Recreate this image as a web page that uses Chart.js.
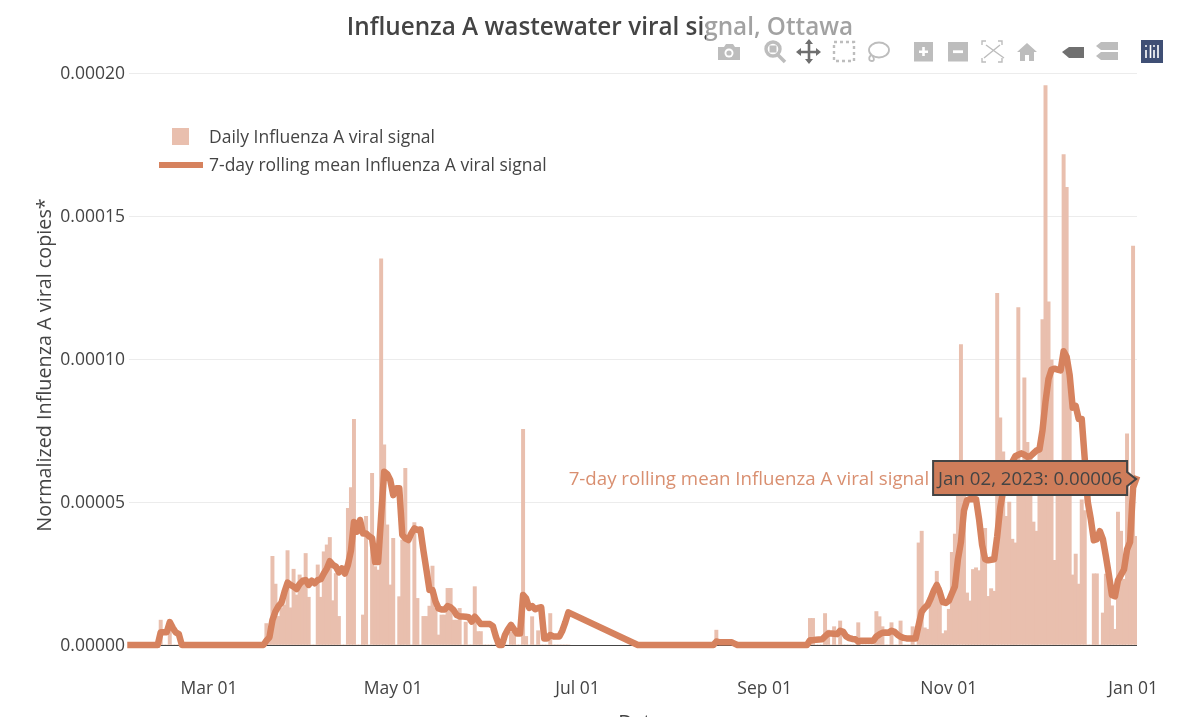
<!DOCTYPE html>
<html>
<head>
<meta charset="utf-8">
<style>
html,body{margin:0;padding:0;width:1200px;height:717px;overflow:hidden;background:#fff}
#wrap{position:absolute;left:0;top:0;width:1200px;height:760px}
canvas{display:block}
#shade{position:absolute;left:706px;top:8px;width:460px;height:58px;background:rgba(255,255,255,.5)}
#bar{position:absolute;left:0;top:0}
</style>
</head>
<body>
<div id="wrap">
<canvas id="c" width="1200" height="760"></canvas>
<div id="shade"></div>
<svg id="bar" width="1200" height="80" viewBox="0 0 1200 80" fill="#bdbdbd">
  <path d="M718 47h6l2-3h7l2 3h5v13h-22z"/><circle cx="729" cy="53" r="4.5" fill="#fff"/><circle cx="729" cy="53" r="2.6"/>
  <circle cx="773" cy="49" r="7" fill="none" stroke="#bdbdbd" stroke-width="3.4"/><rect x="769.5" y="45.5" width="7" height="7"/><path d="M778 55l7 7" stroke="#bdbdbd" stroke-width="3.6" fill="none"/>
  <path d="M809 41v21M798 52h21" stroke="#6f6f6f" stroke-width="2.6" fill="none"/><path d="M809 39l4 5h-8zM809 64l4-5h-8zM796 52l5-4v8zM821 52l-5-4v8z" fill="#6f6f6f"/>
  <rect x="834" y="42" width="20" height="19" fill="none" stroke="#bdbdbd" stroke-width="2.4" stroke-dasharray="3 3"/>
  <ellipse cx="879" cy="50" rx="10" ry="7.5" fill="none" stroke="#bdbdbd" stroke-width="1.8"/><path d="M871 55c-3 3-2 6 1 6s2-4 0-5" fill="none" stroke="#bdbdbd" stroke-width="1.8"/>
  <rect x="914" y="42" width="19" height="19.5"/><path d="M923.500 47v9M919 51.700h9" stroke="#fff" stroke-width="2.6"/>
  <rect x="948" y="42" width="20" height="19.5"/><path d="M953 51.700h10" stroke="#fff" stroke-width="2.8"/>
  <path d="M986 41h-4v4M998 41h4v4M986 62h-4v-4M998 62h4v-4M986 45l18 13M1000 45l-16 13" fill="none" stroke="#bdbdbd" stroke-width="1.4"/>
  <path d="M1027 43l10 9h-3v9h-5v-6h-4v6h-5v-9h-3z"/>
  <path d="M1062 52l7-5h15v11h-15z" fill="#707070"/>
  <path d="M1096 46l5-4h17v8h-17zM1096 56l5-4h17v8h-17z"/>
  <rect x="1141" y="40" width="22" height="23" fill="#3f4f75"/>
  <path d="M1146 50v8M1150.500 45v13M1154 50v8M1158 45v13" stroke="#fff" stroke-width="1.6" stroke-dasharray="none"/>
  <circle cx="1146" cy="46" r="1" fill="#fff"/><circle cx="1154" cy="46" r="1" fill="#fff"/>
</svg>
</div>
<script src="https://cdn.jsdelivr.net/npm/chart.js@4"></script>
<script>
const chartTitle = 'Influenza A wastewater viral signal, Ottawa';
const xTitle = 'Date';
const yTitle = 'Normalized Influenza A viral copies*';
const dailyName = 'Daily Influenza A viral signal';
const rollingName = '7-day rolling mean Influenza A viral signal';
const hoverText = 'Jan 02, 2023: 0.00006';
const tickDays = [26, 87, 148, 210, 271, 332];
const tickLabels = ['Mar 01', 'May 01', 'Jul 01', 'Sep 01', 'Nov 01', 'Jan 01'];
const yTicks = [0, 0.00005, 0.0001, 0.00015, 0.0002];
// one value per day from Feb 03 2022, in millionths
const dailySignal = [
0,0,0,0,0,0,0,0,0,0,8.7,0,0,8,0,0,0,0,0,0,
0,0,0,0,0,0,0,0,0,0,0,0,0,0,0,0,0,0,0,0,
0,0,0,0,0,7.5,4,31,21.3,10,13,14,33,13,26.5,17.5,24.5,23.5,32,16.7,
0,0,28,16.7,32.6,35,37.6,15.5,25,10,0,0,47.8,55,78.9,0,0,10.5,45,0,
60,27.4,26.2,135,70,42,21,37.3,0,16.9,36.7,61.8,36.7,0,42.8,16.3,0,10,10,13.6,
27.6,12.8,3.5,10.5,10.5,19.8,19.8,8.7,8.7,12.8,0,8,0,0,20.4,4.7,4.7,0,0,0,
0,0,0,0,0,0,4.5,4.5,0,0,75.4,3,0,9.9,0,5,0,0,0,11,
0,0,0,0,0,0,
null,null,null,null,null,null,null,null,null,null,null,null,null,null,null,null,null,null,null,null,null,null,
0,0,0,0,0,0,0,0,0,0,0,0,0,0,0,0,0,0,0,0,0,0,0,0,0,0,
5.2,0,0,0,0,0,0,0,0,0,0,0,0,0,0,0,0,0,0,0,0,0,0,0,0,0,0,0,0,0,0,
9.3,9.3,0,0,0,11,5.2,0,6.4,0,8.4,0,0,0,0,0,7.8,0,0,0,0,0,11.7,9.9,6.4,0,0,7.8,0,0,
8.4,0,0,0,6.4,0,35.7,39.8,6,5.5,15,20,25.8,20,4,5,12.5,32.4,38.8,55.6,
105,57.6,18.2,15.4,26.4,27,26,33,40.8,17,19.7,18.8,123,79.4,67.5,45,50,37,35.7,118,
52,93.4,70.9,66,43,39.8,70,113.8,195.6,120,99.7,29.6,52,52,171.5,160,94,24.5,31.8,21.3,
50.8,47,0,0,24.9,24.9,0,11.2,24.8,27,13.7,5.5,46.5,39.8,23,73.8,34.7,139.5,38
];
const rollingMean = [
0,0,0,0,0,0,0,0,0,0,4.5,4.5,4.5,8,6,4.4,3.8,0,0,0,
0,0,0,0,0,0,0,0,0,0,0,0,0,0,0,0,0,0,0,0,
0,0,0,0,0,1.5,2.7,8.7,11.7,13.6,14.8,18.6,21.8,21,20.4,19.6,21.3,22.4,22.7,21,
22.5,21.6,22.7,23,25,26.7,29.3,28,27.4,25.4,26.8,25,28,33,43,39.6,43.7,39,39,38,
37.3,29,29,45,60.6,59.8,57.7,52.4,54.8,54.8,38.5,37.3,36.7,39,40.8,40.2,40.4,33,26.2,19.2,
19.2,15.2,12.8,12.4,12.4,13.6,13.2,12.2,10.5,10,10,9.9,9.7,8.2,9.9,8.7,7.3,7.3,7.3,7.3,
6.6,2.9,0,0,3.5,5.5,7,5.5,4,4,17.5,16.3,13,13.6,12.5,13,13.2,2.3,2.3,3.5,
3,3,3,5,8,11.4,
null,null,null,null,null,null,null,null,null,null,null,null,null,null,null,null,null,null,null,null,null,null,
0,0,0,0,0,0,0,0,0,0,0,0,0,0,0,0,0,0,0,0,0,0,0,0,0,0,
1.2,1,1,1,1,1,0.5,0,0,0,0,0,0,0,0,0,0,0,0,0,0,0,0,0,0,0,0,0,0,0,0,
1.7,1.7,1.8,1.9,2,3,4,4,3.9,3.8,5,4.6,3,2.4,2.1,2,1.2,1.5,1.5,1.5,1.5,1.5,3,3.7,4.3,4.4,4.3,5,4.6,3.6,
2.9,2.5,2.3,2.3,2.3,2.3,7,11.6,13,14,16.3,19,21,18.5,15,14.7,15.5,18,20.5,30,
36,47,50.6,51,51,51,44,35,30,29.6,29.8,30,38,48,54,57.6,61,64,66,66.5,
67,66.5,65.8,66,67,68,68.4,75,85,93,96.3,96.6,96.3,96,102.7,100.8,94.4,83,83.6,79,
79,65,50,44,36.6,37,39.8,37,31,24.5,17.5,17,22.6,24.5,26.4,33.4,36,55,58
];

const FONT = '"Open Sans", sans-serif';
const INK = '#444444';
const BAR = '#e9bfae';
const LINE = '#d6825e';
const toPoints = a => a.map((v, i) => ({x: i, y: v === null ? null : v * 1e-6}));

const overlay = {
  id: 'overlay',
  afterLayout(chart) {
    // centre the title on the whole figure, not just the part left of the right margin
    chart.titleBlock.right = chart.width;
    chart.titleBlock.left = 0;
  },
  afterDraw(chart) {
    const {ctx, scales} = chart;
    ctx.save();
    ctx.textBaseline = 'middle';
    ctx.textAlign = 'center';
    ctx.fillStyle = INK;
    ctx.font = '19.8px ' + FONT;
    ctx.fillText(xTitle, 640, 723);
    ctx.save();
    ctx.translate(45, 365);
    ctx.rotate(-Math.PI / 2);
    ctx.fillText(yTitle, 0, 0);
    ctx.restore();
    // legend
    ctx.font = '17.5px ' + FONT;
    ctx.textAlign = 'left';
    ctx.fillStyle = BAR;
    ctx.fillRect(172, 128, 17, 17);
    ctx.strokeStyle = LINE;
    ctx.lineWidth = 6;
    ctx.beginPath(); ctx.moveTo(159, 165); ctx.lineTo(203, 165); ctx.stroke();
    ctx.fillStyle = INK;
    ctx.fillText(chart.data.datasets[0].label, 209, 138);
    ctx.fillText(chart.data.datasets[1].label, 209, 166);
    // hover label for the last rolling-mean point
    const last = rollingMean.length - 1;
    const px = scales.x.getPixelForValue(last);
    const py = scales.y.getPixelForValue(rollingMean[last] * 1e-6);
    const l = px - 203, r = px - 9, t = py - 18, b = py + 16;
    ctx.beginPath();
    ctx.moveTo(px, py); ctx.lineTo(r, py - 7); ctx.lineTo(r, t); ctx.lineTo(l, t);
    ctx.lineTo(l, b); ctx.lineTo(r, b); ctx.lineTo(r, py + 7); ctx.closePath();
    ctx.fillStyle = '#cf7d5a'; ctx.fill();
    ctx.strokeStyle = INK; ctx.lineWidth = 2; ctx.stroke();
    ctx.font = '18.7px ' + FONT;
    ctx.fillStyle = INK;
    ctx.fillText(hoverText, l + 5, py + 1);
    ctx.fillStyle = '#d98f70';
    ctx.textAlign = 'right';
    ctx.fillText(rollingName, l - 4, py + 1);
    ctx.restore();
  }
};

new Chart(document.getElementById('c'), {
  type: 'bar',
  data: {
    datasets: [
      {type: 'bar', label: dailyName, data: toPoints(dailySignal), backgroundColor: BAR, borderWidth: 0,
       barThickness: 3.3, order: 2},
      {type: 'line', label: rollingName, data: toPoints(rollingMean), borderColor: LINE, borderWidth: 6.5,
       backgroundColor: LINE, pointRadius: 0, tension: 0, spanGaps: true, clip: false,
       borderJoinStyle: 'round', borderCapStyle: 'square', order: 1}
    ]
  },
  options: {
    responsive: false,
    animation: false,
    devicePixelRatio: 1,
    layout: {padding: {left: 0, right: 63, top: 0, bottom: 0}},
    plugins: {
      legend: {display: false},
      tooltip: {enabled: false},
      title: {display: true, text: chartTitle, color: INK,
        font: {family: FONT, size: 24.3, weight: '600', lineHeight: 1.2},
        padding: {top: 13, bottom: 30.84}}
    },
    scales: {
      x: {
        type: 'linear', min: -0.5, max: 333.3, offset: false,
        grid: {display: false}, border: {display: false},
        afterBuildTicks(s) { s.ticks = tickDays.map(v => ({value: v})); },
        afterFit(s) { s.height = 115; },
        ticks: {autoSkip: false, maxRotation: 0, padding: 26, color: INK, font: {family: FONT, size: 17.5},
          callback: v => tickLabels[tickDays.indexOf(v)]}
      },
      y: {
        min: 0, max: 0.0002,
        afterBuildTicks(s) { s.ticks = yTicks.map(v => ({value: v})); },
        afterFit(s) { s.width = 129; },
        grid: {drawTicks: false, lineWidth: 1, color: c => c.tick.value === 0 ? INK : '#ececec'},
        border: {display: false},
        ticks: {padding: 4, labelOffset: 1, color: INK, font: {family: FONT, size: 17.5}, callback: v => v.toFixed(5)}
      }
    }
  },
  plugins: [overlay]
});
</script>
</body>
</html>
